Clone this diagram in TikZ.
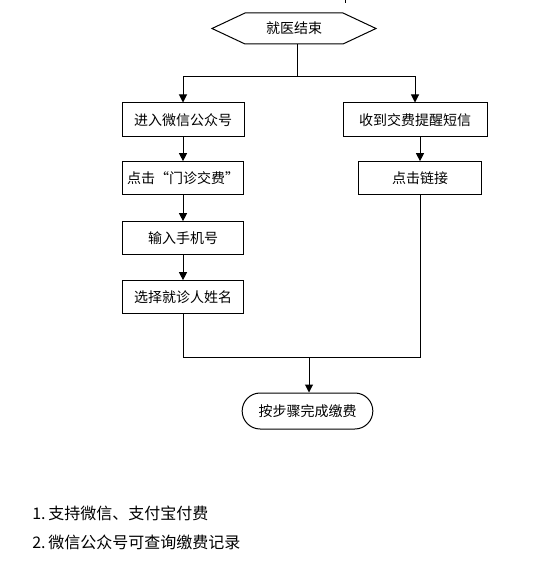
\documentclass[tikz,border=0pt]{standalone}
\usepackage{fontspec}
\setmainfont{Noto Sans CJK SC}
\usetikzlibrary{arrows.meta,calc}
\tikzset{
  boxstyle/.style={draw,line width=0.75pt,rectangle,inner sep=0pt,minimum height=24.5pt,font=\fontsize{10.5pt}{12pt}\selectfont},
  endstyle/.style={draw,line width=0.75pt,rectangle,rounded corners=13.5pt,inner sep=0pt,minimum width=98pt,minimum height=27pt,font=\fontsize{10.5pt}{12pt}\selectfont},
  conn/.style={line width=0.75pt},
  arr/.style={conn,-{Triangle[length=6pt,width=6pt]}},
  notestyle/.style={anchor=west,inner sep=0pt,font=\fontsize{12pt}{14pt}\selectfont}
}
\begin{document}
\begin{tikzpicture}[x=0.75pt,y=-0.75pt]
\useasboundingbox (0,0) rectangle (539,563);
% start hexagon
\node[inner sep=0pt,minimum width=123pt,minimum height=23.25pt,font=\fontsize{10.5pt}{12pt}\selectfont] (start) at (294,28.5) {就医结束};
\draw[conn] (212,28.5) -- (245,13) -- (343,13) -- (376,28.5) -- (343,44) -- (245,44) -- cycle;
\draw[conn,line width=0.6pt] (345,0) -- (345,3);
% left column
\node[boxstyle,minimum width=91.5pt,minimum height=25.5pt] (l1) at (183,120) {进入微信公众号};
\node[boxstyle,minimum width=91pt] (l2) at (183,178) {点击“门诊交费”};
\node[boxstyle,minimum width=91pt] (l3) at (183,238) {输入手机号};
\node[boxstyle,minimum width=91pt] (l4) at (183,297) {选择就诊人姓名};
% right column
\node[boxstyle,minimum width=108pt,minimum height=25.5pt] (r1) at (415,120) {收到交费提醒短信};
\node[boxstyle,minimum width=92pt] (r2) at (420,178) {点击链接};
% end
\node[endstyle] (end) at (307.5,411) {按步骤完成缴费};
% connectors
\coordinate (split) at (297,77);
\coordinate (join) at (309,357);
\draw[conn] (start.south -| split) -- (split);
\draw[arr] (split) -| (l1.north);
\draw[arr] (split) -| (r1.north);
\draw[arr] (l1) -- (l2);
\draw[arr] (l2) -- (l3);
\draw[arr] (l3) -- (l4);
\draw[arr] (r1.south -| r2.north) -- (r2.north);
\draw[conn] (l4.south) |- (join);
\draw[conn] (r2.south) |- (join);
\draw[arr] (join) -- (join |- end.north);
% notes
\node[notestyle] (n1) at (32,513) {1.\,支持微信、支付宝付费};
\node[notestyle] (n2) at (32,542) {2.\,微信公众号可查询缴费记录};
\end{tikzpicture}
\end{document}
